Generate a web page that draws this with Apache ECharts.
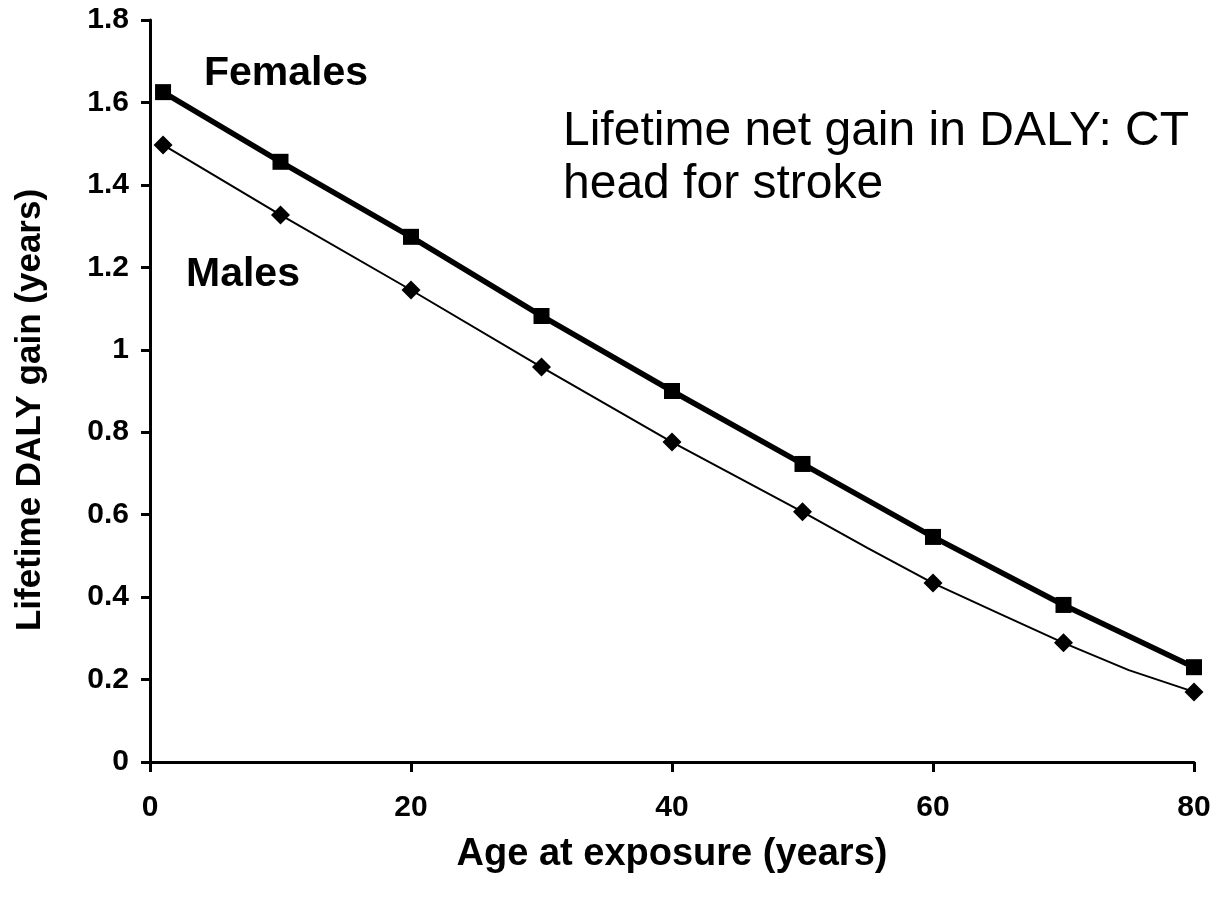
<!DOCTYPE html>
<html>
<head>
<meta charset="utf-8">
<style>
  html, body { margin: 0; padding: 0; background: #fff; }
  #chart { width: 1216px; height: 901px; }
</style>
<script src="https://cdn.jsdelivr.net/npm/echarts@6/dist/echarts.min.js"></script>
</head>
<body>
<div id="chart"></div>
<script>
// values
const femaleAges = [1, 10, 20, 30, 40, 50, 60, 70, 80];
const femaleGain = [1.625, 1.456, 1.274, 1.082, 0.900, 0.723, 0.546, 0.381, 0.230];
const maleAges = [1, 10, 20, 30, 40, 50, 55, 60, 65, 70, 75, 80];
const maleGain = [1.497, 1.327, 1.145, 0.958, 0.776, 0.607, 0.519, 0.434, 0.361, 0.289, 0.223, 0.170];
const markedAges = [1, 10, 20, 30, 40, 50, 60, 70, 80];

const FONT = "Liberation Sans, Arial, sans-serif";

function pairs(xs, ys) {
  return xs.map((x, i) => ({
    value: [x, ys[i]],
    symbol: markedAges.indexOf(x) >= 0 ? undefined : "none",
  }));
}

const chart = echarts.init(document.getElementById("chart"), null, { renderer: "canvas" });

const option = {
  backgroundColor: "#fff",
  animation: false,
  grid: { left: 150, right: 22, top: 20, bottom: 139, containLabel: false },
  xAxis: {
    type: "value",
    min: 0,
    max: 80,
    interval: 20,
    name: "Age at exposure (years)",
    nameLocation: "middle",
    nameGap: 74,
    nameTextStyle: { fontFamily: FONT, fontWeight: "bold", fontSize: 38, color: "#000" },
    axisLine: { show: true, lineStyle: { color: "#000", width: 3 } },
    axisTick: { show: true, inside: false, length: 10, lineStyle: { color: "#000", width: 3 } },
    axisLabel: { margin: 31, fontFamily: FONT, fontWeight: "bold", fontSize: 30, color: "#000" },
    splitLine: { show: false },
  },
  yAxis: {
    type: "value",
    min: 0,
    max: 1.8,
    interval: 0.2,
    name: "Lifetime DALY gain (years)",
    nameLocation: "middle",
    nameGap: 102,
    nameRotate: 90,
    nameTextStyle: {
      fontFamily: FONT,
      fontWeight: "bold",
      fontSize: 35,
      color: "#000",
      padding: [0, 38, 0, 0],
    },
    axisLine: { show: true, lineStyle: { color: "#000", width: 3 } },
    axisTick: { show: true, inside: false, length: 9, lineStyle: { color: "#000", width: 3 } },
    axisLabel: {
      margin: 21,
      fontFamily: FONT,
      fontWeight: "bold",
      fontSize: 30,
      color: "#000",
      formatter: function (v) { return String(Math.round(v * 10) / 10); },
    },
    splitLine: { show: false },
  },
  series: [
    {
      name: "Females",
      type: "line",
      data: pairs(femaleAges, femaleGain),
      symbol: "rect",
      symbolSize: 16,
      showAllSymbol: true,
      lineStyle: { color: "#000", width: 5.5 },
      itemStyle: { color: "#000" },
      clip: false,
    },
    {
      name: "Males",
      type: "line",
      data: pairs(maleAges, maleGain),
      symbol: "diamond",
      symbolSize: 19,
      showAllSymbol: true,
      lineStyle: { color: "#000", width: 2 },
      itemStyle: { color: "#000" },
      clip: false,
    },
  ],
  graphic: [
    {
      type: "text",
      left: 204,
      top: 53,
      style: { text: "Females", fontFamily: FONT, fontWeight: "bold", fontSize: 41, fill: "#000" },
    },
    {
      type: "text",
      left: 186,
      top: 254,
      style: { text: "Males", fontFamily: FONT, fontWeight: "bold", fontSize: 41, fill: "#000" },
    },
    {
      type: "text",
      left: 563,
      top: 105,
      style: {
        text: "Lifetime net gain in DALY: CT\nhead for stroke",
        fontFamily: FONT,
        fontSize: 48,
        lineHeight: 53,
        fill: "#000",
      },
    },
  ],
};

chart.setOption(option);
</script>
</body>
</html>
